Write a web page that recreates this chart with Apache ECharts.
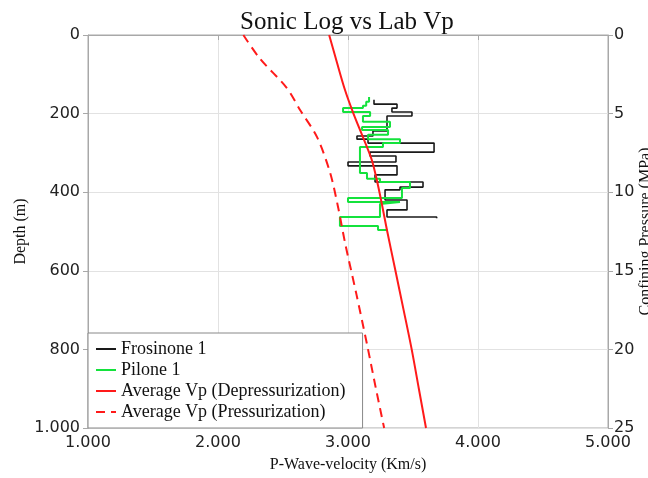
<!DOCTYPE html>
<html>
<head>
<meta charset="utf-8">
<script src="https://cdn.jsdelivr.net/npm/echarts@6/dist/echarts.min.js"></script>
<style>
html,body{margin:0;padding:0;background:#fff;}
#chart{width:648px;height:478px;}
</style>
</head>
<body>
<div id="chart"></div>
<script>
// ---- data ----
const seriesNames = ['Frosinone 1', 'Pilone 1', 'Average Vp (Depressurization)', 'Average Vp (Pressurization)'];

// Sonic logs: depth boundaries (m) and interval velocity (m/s, shown as Km/s with '.' thousands sep)
const frosDepth = [165,176,186,196,206,244,257,265,275,298,308,323,333,356,374,387,394,420,445,463,466];
const frosVp    = [3200,3377,3338,3492,3300,3192,3069,3154,3662,3169,3369,3000,3377,3208,3577,3400,3285,3454,3300,3682];

const pilDepth = [158,170,180,186,196,206,221,234,242,254,265,275,285,351,366,374,389,415,425,430,463,486,496,498];
const pilVp    = [3162,3140,3115,2962,3170,3115,3323,3108,3308,3154,3400,3269,3092,3146,3246,3477,3415,3000,3400,3246,2938,3231,3300];

// Lab curves
const depDepth = [0,70,140,200,260,320,400,500,600,700,800,900,1000];
const depVp    = [2855,2915,2977,3042,3115,3185,3242,3302,3365,3428,3490,3545,3600];

const presDepth = [0,60,135,190,260,350,440,530,660,790,900,1000];
const presVp    = [2195,2322,2530,2630,2762,2862,2925,2978,3065,3148,3215,3278];

const xTicks = [1000,2000,3000,4000,5000];
const depthTicks = [0,200,400,600,800,1000];
const pressureTicks = [0,5,10,15,20,25];

// ---- helpers ----
function fmt(v){
  if (v >= 1000) return Math.floor(v/1000) + '.' + String(v % 1000).padStart(3,'0');
  return String(v);
}
function steps(depths, vps){
  const pts = [];
  for (let i = 0; i < vps.length; i++){
    pts.push([vps[i], depths[i]]);
    pts.push([vps[i], depths[i+1]]);
  }
  return pts;
}
function pairs(depths, vps){ return depths.map((d,i)=>[vps[i], d]); }

const serif = 'Liberation Serif';
const sans = 'DejaVu Sans';
const axisGray = '#a8a8a8';

const chart = echarts.init(document.getElementById('chart'), null, {renderer:'canvas'});
chart.setOption({
  animation: false,
  backgroundColor: '#fff',
  title: {
    text: 'Sonic Log vs Lab Vp',
    left: 240, top: 10, padding: 0,
    textStyle: {fontFamily: serif, fontSize: 25, fontWeight: 'normal', color: '#111'}
  },
  legend: {
    data: seriesNames,
    orient: 'vertical',
    left: 88, top: 333,
    padding: [7, 17, 7, 7],
    itemGap: 3,
    itemWidth: 20, itemHeight: 14,
    backgroundColor: '#fff',
    borderColor: '#888', borderWidth: 1, borderRadius: 0,
    itemStyle: {opacity: 0, borderWidth: 0},
    textStyle: {fontFamily: serif, fontSize: 18, color: '#111', lineHeight: 18},
    selectedMode: false
  },
  grid: {left: 88, right: 40, top: 35, bottom: 50, containLabel: false, outerBoundsMode: 'none',
         show: true, borderColor: axisGray, borderWidth: 1, backgroundColor: 'transparent'},
  xAxis: {
    type: 'value', min: xTicks[0], max: xTicks[xTicks.length-1], interval: 1000,
    name: 'P-Wave-velocity (Km/s)', nameLocation: 'middle', nameGap: 29, nameMoveOverlap: false,
    nameTextStyle: {fontFamily: serif, fontSize: 16, color: '#111'},
    axisLine: {show: true, lineStyle: {color: axisGray}},
    axisTick: {show: true, length: 5, lineStyle: {color: axisGray}},
    axisLabel: {fontFamily: sans, fontSize: 16, color: '#222', margin: 7, formatter: fmt},
    splitLine: {show: true, lineStyle: {color: '#e2e2e2'}}
  },
  yAxis: [{
    type: 'value', inverse: true, min: depthTicks[0], max: depthTicks[depthTicks.length-1], interval: 200,
    name: 'Depth (m)', nameLocation: 'middle', nameGap: 59, nameRotate: 90, nameMoveOverlap: false,
    nameTextStyle: {fontFamily: serif, fontSize: 16, color: '#111'},
    axisLine: {show: true, lineStyle: {color: axisGray}},
    axisTick: {show: true, length: 5, lineStyle: {color: axisGray}},
    axisLabel: {fontFamily: sans, fontSize: 16, color: '#222', margin: 8, formatter: fmt},
    splitLine: {show: true, lineStyle: {color: '#e2e2e2'}}
  }, {
    type: 'value', inverse: true, position: 'right', min: pressureTicks[0], max: pressureTicks[pressureTicks.length-1], interval: 5,
    name: 'Confining Pressure (MPa)', nameLocation: 'middle', nameGap: 30, nameRotate: 90, nameMoveOverlap: false,
    nameTextStyle: {fontFamily: serif, fontSize: 16, color: '#111'},
    axisLine: {show: true, lineStyle: {color: axisGray}},
    axisTick: {show: true, length: 5, lineStyle: {color: axisGray}},
    axisLabel: {fontFamily: sans, fontSize: 16, color: '#222', margin: 6},
    splitLine: {show: false}
  }],
  series: [{
    name: seriesNames[0], type: 'line', data: steps(frosDepth, frosVp),
    symbol: 'none', lineStyle: {color: '#1a1a1a', width: 1.6}, itemStyle: {color: '#1a1a1a'}, z: 3
  }, {
    name: seriesNames[1], type: 'line', data: steps(pilDepth, pilVp),
    symbol: 'none', lineStyle: {color: '#14e23c', width: 2}, itemStyle: {color: '#14e23c'}, z: 4
  }, {
    name: seriesNames[2], type: 'line', data: pairs(depDepth, depVp), smooth: 0.3,
    symbol: 'none', lineStyle: {color: '#ff1a1a', width: 2}, itemStyle: {color: '#ff1a1a'}, z: 5
  }, {
    name: seriesNames[3], type: 'line', data: pairs(presDepth, presVp), smooth: 0.3,
    symbol: 'none', lineStyle: {color: '#ff1a1a', width: 2, type: [9, 6]}, itemStyle: {color: '#ff1a1a'}, z: 5
  }]
});
</script>
</body>
</html>
